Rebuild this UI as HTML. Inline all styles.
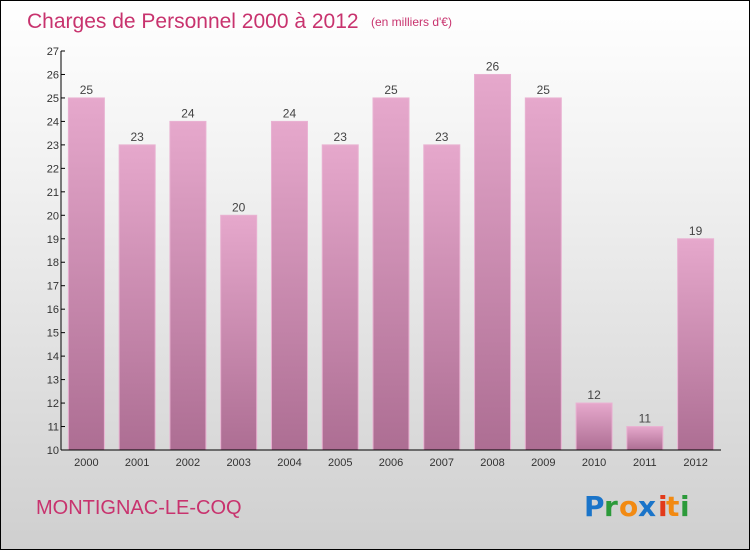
<!DOCTYPE html>
<html><head><meta charset="utf-8"><style>
body{margin:0}
#c{width:750px;height:550px;position:relative;box-sizing:border-box;border:1px solid #000;background:linear-gradient(#ffffff,#f2f2f2 30%,#cfcfcf);font-family:"Liberation Sans",sans-serif;overflow:hidden}
</style></head><body>
<div id="c">
<svg width="748" height="548" style="position:absolute;left:0;top:0">
<defs><linearGradient id="g" x1="0" y1="0" x2="0" y2="1"><stop offset="0" stop-color="#e6a8cc"/><stop offset="1" stop-color="#ad6e93"/></linearGradient></defs>
<text x="26" y="27" font-size="21" fill="#c8336e">Charges de Personnel 2000 à 2012</text>
<text x="370" y="25" font-size="12" fill="#c8336e">(en milliers d'€)</text>
<text x="35" y="513" font-size="20" fill="#c8336e">MONTIGNAC-LE-COQ</text>
<g font-size="28" font-family="'DejaVu Sans',sans-serif" font-weight="bold">
<text x="583" y="515" fill="#1a74c9">P</text><text x="603" y="515" fill="#2c9a3a">r</text><text x="618" y="515" fill="#f28a12">o</text><text x="637" y="515" fill="#1a74c9">x</text><text x="657" y="515" fill="#e23a1a">i</text><text x="665" y="515" fill="#f28a12">t</text><text x="679" y="515" fill="#2c9a3a">i</text></g>
<g id="plot"></g>
</svg>
</div>
<script>
const categories=["2000","2001","2002","2003","2004","2005","2006","2007","2008","2009","2010","2011","2012"];
const values=[25,23,24,20,24,23,25,23,26,25,12,11,19];
const yTicks=[10,11,12,13,14,15,16,17,18,19,20,21,22,23,24,25,26,27];
const X0=60,X1=720,Y0=449,Y1=50,yMin=10,yMax=27;
const y=v=>Y0-(v-yMin)/(yMax-yMin)*(Y0-Y1);
const slot=(X1-X0)/categories.length;
const x=i=>X0+slot*i+slot/2;
const ns="http://www.w3.org/2000/svg",p=document.getElementById('plot');
function mk(t,a,txt){const e=document.createElementNS(ns,t);for(const k in a)e.setAttribute(k,a[k]);if(txt!=null)e.textContent=txt;p.appendChild(e);return e;}
values.forEach((v,i)=>{
const b=mk('rect',{x:x(i)-18,y:y(v),width:36,height:Y0-y(v),fill:'url(#g)',stroke:'#e9b2d2','stroke-width':1});


const l=mk('text',{x:x(i),y:y(v)-4,'text-anchor':'middle','font-size':12,fill:'#444'},String(v));


const t=mk('text',{x:x(i),y:Y0+16,'text-anchor':'middle','font-size':11,fill:'#333'},categories[i]);


});
yTicks.forEach(v=>{
const tk=mk('line',{x1:X0,x2:X0+4,y1:y(v),y2:y(v),stroke:'#000'});


const t=mk('text',{x:X0-2,y:y(v)+4,'text-anchor':'end','font-size':11,fill:'#333'},String(v));


});
const ya=mk('line',{x1:X0,x2:X0,y1:Y1,y2:Y0,stroke:'#000'});


const xa=mk('line',{x1:X0,x2:X1,y1:Y0,y2:Y0,stroke:'#000'});


</script>
</body></html>
